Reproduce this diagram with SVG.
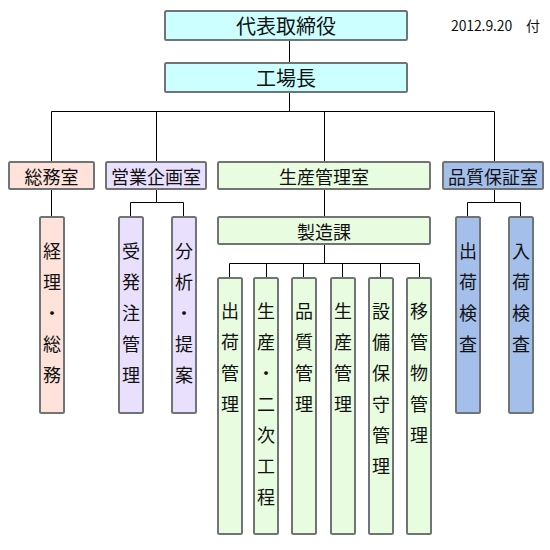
<svg xmlns="http://www.w3.org/2000/svg" width="550" height="550" viewBox="0 0 550 550">
<style>
.box{stroke:#707474;stroke-width:2}
.cy{fill:#ccffff}.pe{fill:#ffe3da}.la{fill:#e8e0fc}.gr{fill:#e8fcdf}.bl{fill:#a3bfea}
text{font-family:"Noto Sans CJK JP","Noto Sans CJK SC",sans-serif;fill:#111;text-anchor:middle;dominant-baseline:central;font-size:18px}
.big{font-size:20px}
#conn path{stroke:#000;stroke-width:1;fill:none}
</style>
<g id="conn">
<path d="M289.5 41V62M289.5 92V111.5M51.5 111.5H494.5M51.5 111.5V161M156.5 111.5V161M324.5 111.5V161M494.5 111.5V161"/>
<path d="M51.5 190V216"/>
<path d="M156.5 190V202.5M130.5 202.5H183.5M130.5 202.5V216M183.5 202.5V216"/>
<path d="M324.5 190V216M324.5 245V263.5M229.5 263.5H419.5M229.5 263.5V277M266.5 263.5V277M303.5 263.5V277M342.5 263.5V277M380.5 263.5V277M419.5 263.5V277"/>
<path d="M494.5 190V202.5M467.5 202.5H520.5M467.5 202.5V216M520.5 202.5V216"/>
</g>
<g id="ceo"><rect class="box cy" x="165" y="11" width="242" height="29" rx="1.5"/><text class="big" x="286" y="25">代表取締役</text></g>
<g id="date"><text x="451" y="25" style="text-anchor:start;font-size:14px" textLength="89" lengthAdjust="spacing">2012.9.20　付</text></g>
<g id="factory"><rect class="box cy" x="165" y="63" width="242" height="29" rx="1.5"/><text class="big" x="286" y="77">工場長</text></g>
<g id="soumu"><rect class="box pe" x="9" y="162" width="85" height="27" rx="1.5"/><text x="51.5" y="175.5">総務室</text></g>
<g id="eigyo"><rect class="box la" x="106" y="162" width="100" height="27" rx="1.5"/><text x="156" y="175.5">営業企画室</text></g>
<g id="seisan"><rect class="box gr" x="218" y="162" width="212" height="27" rx="1.5"/><text x="324" y="175.5">生産管理室</text></g>
<g id="hinshitsu"><rect class="box bl" x="443" y="162" width="100" height="27" rx="1.5"/><text x="493" y="175.5">品質保証室</text></g>
<g id="seizou"><rect class="box gr" x="218" y="217" width="212" height="27" rx="1.5"/><text x="324" y="230.5">製造課</text></g>
<g id="keiri"><rect class="box pe" x="40" y="217" width="24" height="196" rx="1.5"/><text><tspan x="52" y="249.5">経</tspan><tspan x="52" y="280.5">理</tspan><tspan x="52" y="311.5">・</tspan><tspan x="52" y="342.5">総</tspan><tspan x="52" y="373.5">務</tspan></text></g>
<g id="juhacchu"><rect class="box la" x="119" y="217" width="24" height="196" rx="1.5"/><text><tspan x="131" y="249.5">受</tspan><tspan x="131" y="280.5">発</tspan><tspan x="131" y="311.5">注</tspan><tspan x="131" y="342.5">管</tspan><tspan x="131" y="373.5">理</tspan></text></g>
<g id="bunseki"><rect class="box la" x="172" y="217" width="24" height="196" rx="1.5"/><text><tspan x="184" y="249.5">分</tspan><tspan x="184" y="280.5">析</tspan><tspan x="184" y="311.5">・</tspan><tspan x="184" y="342.5">提</tspan><tspan x="184" y="373.5">案</tspan></text></g>
<g id="shukkakensa"><rect class="box bl" x="456" y="217" width="24" height="196" rx="1.5"/><text><tspan x="468" y="249.5">出</tspan><tspan x="468" y="280.5">荷</tspan><tspan x="468" y="311.5">検</tspan><tspan x="468" y="342.5">査</tspan></text></g>
<g id="nyukakensa"><rect class="box bl" x="509" y="217" width="24" height="196" rx="1.5"/><text><tspan x="521" y="249.5">入</tspan><tspan x="521" y="280.5">荷</tspan><tspan x="521" y="311.5">検</tspan><tspan x="521" y="342.5">査</tspan></text></g>
<g id="shukka"><rect class="box gr" x="218" y="278" width="24" height="256" rx="1.5"/><text><tspan x="230" y="310">出</tspan><tspan x="230" y="341">荷</tspan><tspan x="230" y="372">管</tspan><tspan x="230" y="403">理</tspan></text></g>
<g id="niji"><rect class="box gr" x="254" y="278" width="24" height="256" rx="1.5"/><text><tspan x="266" y="310">生</tspan><tspan x="266" y="341">産</tspan><tspan x="266" y="372">・</tspan><tspan x="266" y="403">二</tspan><tspan x="266" y="434">次</tspan><tspan x="266" y="465">工</tspan><tspan x="266" y="496">程</tspan></text></g>
<g id="hinkan"><rect class="box gr" x="292" y="278" width="24" height="256" rx="1.5"/><text><tspan x="304" y="310">品</tspan><tspan x="304" y="341">質</tspan><tspan x="304" y="372">管</tspan><tspan x="304" y="403">理</tspan></text></g>
<g id="seikan"><rect class="box gr" x="331" y="278" width="24" height="256" rx="1.5"/><text><tspan x="343" y="310">生</tspan><tspan x="343" y="341">産</tspan><tspan x="343" y="372">管</tspan><tspan x="343" y="403">理</tspan></text></g>
<g id="setsubi"><rect class="box gr" x="369" y="278" width="24" height="256" rx="1.5"/><text><tspan x="381" y="310">設</tspan><tspan x="381" y="341">備</tspan><tspan x="381" y="372">保</tspan><tspan x="381" y="403">守</tspan><tspan x="381" y="434">管</tspan><tspan x="381" y="465">理</tspan></text></g>
<g id="idou"><rect class="box gr" x="407" y="278" width="24" height="256" rx="1.5"/><text><tspan x="419" y="310">移</tspan><tspan x="419" y="341">管</tspan><tspan x="419" y="372">物</tspan><tspan x="419" y="403">管</tspan><tspan x="419" y="434">理</tspan></text></g>
</svg>
